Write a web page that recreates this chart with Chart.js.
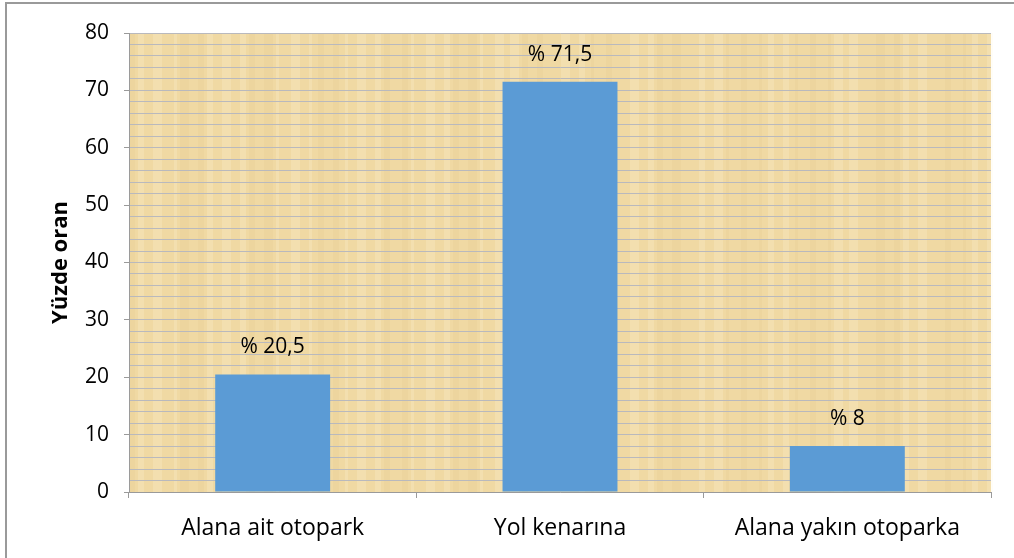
<!DOCTYPE html>
<html>
<head>
<meta charset="utf-8">
<script src="https://cdn.jsdelivr.net/npm/chart.js@4"></script>
<style>
  html, body { margin: 0; padding: 0; background: #fff; }
  #wrap { position: relative; width: 1014px; height: 558px; }
</style>
</head>
<body>
<div id="wrap"><canvas id="cv" width="1014" height="558"></canvas></div>
<script>
  // data
  const categories = ['Alana ait otopark', 'Yol kenarına', 'Alana yakın otoparka'];
  const percents = [20.5, 71.5, 8];
  const valueLabels = ['% 20,5', '% 71,5', '% 8'];
  const yTitle = 'Yüzde oran';

  const FONT = "'Open Sans', 'Noto Sans', sans-serif";

  // parchment-ish fill: base tan with faint vertical streaks
  function parchment(ctx, a) {
    ctx.fillStyle = '#f0d9a3';
    ctx.fillRect(a.left, a.top, a.right - a.left, a.bottom - a.top);
    for (let x = a.left; x < a.right; x += 3) {
      const k = Math.sin(x * 0.37) + Math.sin(x * 0.091) * 0.8;
      ctx.fillStyle = k > 0.7 ? 'rgba(255,245,220,0.22)' : k < -0.9 ? 'rgba(215,185,120,0.10)' : 'rgba(0,0,0,0)';
      ctx.fillRect(x, a.top, 3, a.bottom - a.top);
    }
  }

  const backdrop = {
    id: 'backdrop',
    beforeDraw(chart) {
      const { ctx, chartArea: a } = chart;
      ctx.save();
      parchment(ctx, a);
      ctx.strokeStyle = '#9a9a9a';
      ctx.lineWidth = 2;
      ctx.beginPath();
      ctx.moveTo(6, 558);
      ctx.lineTo(6, 3);
      ctx.lineTo(1014, 3);
      ctx.stroke();
      ctx.restore();
    },
  };

  // "% x" labels above each bar + rotated y title
  const extras = {
    id: 'extras',
    afterDatasetsDraw(chart) {
      const { ctx, chartArea: a } = chart;
      const meta = chart.getDatasetMeta(0);
      ctx.save();
      ctx.font = '21px ' + FONT;
      ctx.fillStyle = '#000';
      ctx.textAlign = 'center';
      ctx.textBaseline = 'middle';
      meta.data.forEach((bar, i) => {
        ctx.fillText(valueLabels[i], bar.x, bar.y - 27);
      });
      ctx.translate(61, (a.top + a.bottom) / 2);
      ctx.rotate(-Math.PI / 2);
      ctx.font = 'bold 22px ' + FONT;
      ctx.fillText(yTitle, 0, 0);
      ctx.restore();
    },
  };

  new Chart(document.getElementById('cv').getContext('2d'), {
    type: 'bar',
    data: {
      labels: categories,
      datasets: [{
        data: percents,
        backgroundColor: '#5b9bd5',
        borderWidth: 0,
        categoryPercentage: 0.8,
        barPercentage: 0.5,
      }],
    },
    options: {
      responsive: false,
      animation: false,
      layout: { padding: { left: 0, top: 33, right: 23, bottom: 0 } },
      plugins: { legend: { display: false }, tooltip: { enabled: false } },
      scales: {
        x: {
          grid: { offset: true, drawOnChartArea: false, drawTicks: true, tickLength: 6, color: '#9a9a9a' },
          border: { color: '#9a9a9a', width: 1 },
          ticks: { color: '#000', font: { family: FONT, size: 23 }, padding: 17 },
          afterFit(s) { s.height = 66; },
        },
        y: {
          min: 0, max: 80,
          grid: {
            color: '#b9b9bd',
            lineWidth: 1,
            tickLength: 5,
            tickColor: (c) => (c.tick && c.tick.value % 10 === 0 ? '#9a9a9a' : 'rgba(0,0,0,0)'),
          },
          border: { color: '#9a9a9a', width: 1 },
          ticks: {
            stepSize: 2,
            autoSkip: false,
            color: '#000',
            font: { family: FONT, size: 21 },
            padding: 15,
            callback: (v) => (v % 10 === 0 ? String(v) : ''),
          },
          afterFit(s) { s.width = 129; },
        },
      },
    },
    plugins: [backdrop, extras],
  });
</script>
</body>
</html>
